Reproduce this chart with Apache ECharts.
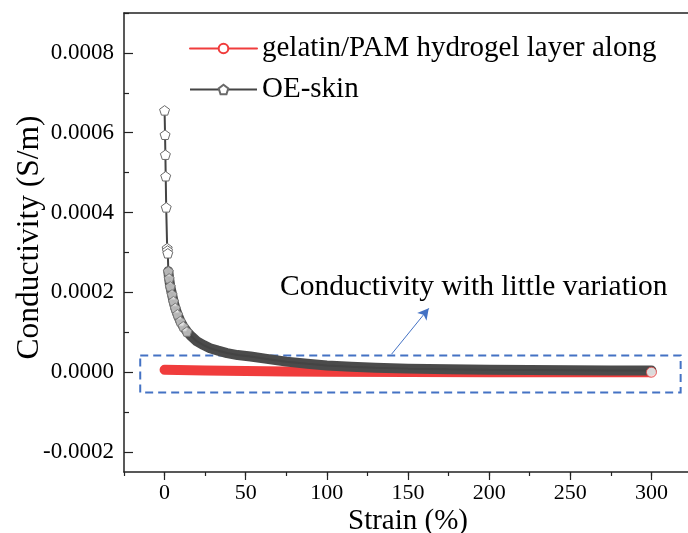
<!DOCTYPE html>
<html>
<head>
<meta charset="utf-8">
<script src="https://cdn.jsdelivr.net/npm/echarts@6/dist/echarts.min.js"></script>
<style>
  html, body { margin: 0; padding: 0; background: #fff; }
  #chart { width: 688px; height: 533px; }
</style>
</head>
<body>
<div id="chart"></div>
<script>
// Strain (%) and conductivity (S/m) for the gelatin/PAM hydrogel layer
const gelStrain = [0, 25, 50, 75, 100, 150, 200, 250, 300];
const gelCond   = [6.0e-6, 4.3e-6, 2.9e-6, 1.9e-6, 1.2e-6, 0.5e-6, 0.2e-6, 0.1e-6, 0.0];

// Strain (%) and conductivity (S/m) for the OE-skin
const oeStrain = [0, 0.3, 0.5, 0.7, 1.0, 1.6, 1.8, 2.0, 2.3, 2.8, 3.5, 4.6, 5.5, 6.6, 8.0, 9.7,
                  11.5, 13.8, 16.5, 20, 24, 28, 33, 38.5, 45, 53, 62, 75, 88, 100, 115, 130,
                  150, 175, 200, 225, 250, 275, 300];
const oeCond   = [6.56e-4, 5.95e-4, 5.45e-4, 4.91e-4, 4.13e-4, 3.11e-4, 3.05e-4, 2.98e-4,
                  2.53e-4, 2.35e-4, 2.15e-4, 1.95e-4, 1.78e-4, 1.61e-4, 1.45e-4, 1.28e-4,
                  1.15e-4, 1.02e-4, 0.90e-4, 0.77e-4, 0.68e-4, 0.60e-4, 0.54e-4, 0.48e-4,
                  0.43e-4, 0.395e-4, 0.34e-4, 0.265e-4, 0.21e-4, 0.17e-4, 0.135e-4, 0.11e-4,
                  0.09e-4, 0.075e-4, 0.062e-4, 0.055e-4, 0.05e-4, 0.046e-4, 0.043e-4];

// Axis tick positions
const strainTicks = ['-25', '0', '25', '50', '75', '100', '125', '150', '175', '200', '225', '250', '275', '300', '325'];
const condStep = 0.00005;
const condMin = -0.00025, condMax = 0.0009;
const condTicks = [];
for (let k = Math.round(condMin / condStep); k <= Math.round(condMax / condStep); k++) condTicks.push(String(k));

const seriesNames = ['gelatin/PAM hydrogel layer along', 'OE-skin'];

const FONT = '"Liberation Serif", "Times New Roman", serif';
const AXIS_COLOR = '#222';
const PENTAGON = 'path://M0,-10 L9.51,-3.09 L5.88,8.09 L-5.88,8.09 L-9.51,-3.09 Z';

const pairs = (xs, ys) => xs.map((x, i) => [x, ys[i]]);
const oePoints = pairs(oeStrain, oeCond);
const gelPoints = pairs(gelStrain, gelCond);

// Sparse OE-skin points keep white markers; crowded ones blend into the band
const oeMarked = oePoints.map(p => {
  if (p[0] < 2.3) return p;
  if (p[0] <= 14) return { value: p, itemStyle: { color: 'rgba(255,255,255,0.6)', borderColor: '#777' } };
  return { value: p, symbol: 'none' };
});
const oeBand = oePoints.filter(p => p[0] >= 2.3);

const chart = echarts.init(document.getElementById('chart'), null, { renderer: 'canvas' });

const tickAxisBase = {
  type: 'category', gridIndex: 0, boundaryGap: false,
  axisLine: { show: false, onZero: false }, axisLabel: { show: false }, splitLine: { show: false }
};

chart.setOption({
  animation: false,
  backgroundColor: '#fff',
  grid: { left: 124, top: 13, right: -4, bottom: 61, containLabel: false, outerBoundsMode: 'none' },
  legend: {
    data: seriesNames,
    orient: 'vertical',
    left: 189, top: 33, padding: 0,
    itemWidth: 67, itemHeight: 12, itemGap: 10,
    lineStyle: { width: 2 },
    textStyle: { fontFamily: FONT, fontSize: 29, color: '#000', lineHeight: 31 }
  },
  xAxis: [
    {
      type: 'value', min: -25, max: 325, interval: 25,
      name: 'Strain (%)', nameLocation: 'middle', nameGap: 35, nameMoveOverlap: false,
      nameTextStyle: { fontFamily: FONT, fontSize: 29, color: '#000' },
      axisLine: { onZero: false, lineStyle: { color: AXIS_COLOR, width: 1.5 } },
      axisTick: { show: true, length: 4, lineStyle: { color: AXIS_COLOR, width: 1.2 } },
      axisLabel: {
        margin: 10, fontFamily: FONT, fontSize: 22, color: '#000',
        formatter: v => (Math.round(v) % 50 === 0 ? String(Math.round(v)) : '')
      },
      splitLine: { show: false }
    },
    Object.assign({}, tickAxisBase, {
      position: 'bottom', data: strainTicks,
      axisTick: {
        show: true, length: 8, lineStyle: { color: AXIS_COLOR, width: 1.2 },
        interval: (i, v) => Number(v) % 50 === 0
      }
    }),
    {
      type: 'value', position: 'top', min: -25, max: 325,
      axisLine: { show: true, onZero: false, lineStyle: { color: AXIS_COLOR, width: 1.5 } },
      axisTick: { show: false }, axisLabel: { show: false }, splitLine: { show: false }
    }
  ],
  yAxis: [
    {
      type: 'value', min: condMin, max: condMax, interval: condStep,
      name: 'Conductivity (S/m)', nameLocation: 'middle', nameGap: 78, nameMoveOverlap: false,
      nameTextStyle: { fontFamily: FONT, fontSize: 31.5, color: '#000', padding: [0, 0, 0, 10] },
      axisLine: { show: true, onZero: false, lineStyle: { color: AXIS_COLOR, width: 1.5 } },
      axisTick: { show: false },
      axisLabel: {
        margin: 10, fontFamily: FONT, fontSize: 23, color: '#000',
        formatter: v => (Math.round(v / condStep) % 4 === 0 ? v.toFixed(4) : '')
      },
      splitLine: { show: false }
    },
    Object.assign({}, tickAxisBase, {
      position: 'left', data: condTicks,
      axisTick: {
        show: true, inside: true, length: 9, lineStyle: { color: AXIS_COLOR, width: 1.2 },
        interval: (i, v) => Number(v) % 4 === 0
      }
    }),
    Object.assign({}, tickAxisBase, {
      position: 'left', data: condTicks,
      axisTick: {
        show: true, inside: true, length: 5, lineStyle: { color: AXIS_COLOR, width: 1.2 },
        interval: (i, v) => Math.abs(Number(v)) % 4 === 2
      }
    })
  ],
  series: [
    {
      name: seriesNames[0],
      type: 'line',
      data: gelPoints,
      z: 2,
      symbol: 'circle', symbolSize: 9, showSymbol: false,
      itemStyle: { color: '#fff', borderColor: '#f03c3c', borderWidth: 1 },
      lineStyle: { color: '#f03c3c', width: 10, cap: 'round', join: 'round' },
      markArea: {
        silent: true,
        itemStyle: { color: 'rgba(0,0,0,0)', borderColor: '#4472c4', borderWidth: 2, borderType: [8, 5] },
        label: { show: false },
        data: [[{ coord: [-15, 0.000042] }, { coord: [318, -0.000051] }]]
      },
      markLine: {
        silent: true,
        symbol: ['none', 'arrow'], symbolSize: [9, 11],
        label: { show: false },
        lineStyle: { color: '#4472c4', width: 1, type: 'solid' },
        data: [[{ coord: [139.9, 0.0000453] }, { coord: [162.8, 0.00016] }]]
      }
    },
    {
      // crowded part of the OE-skin curve, where markers merge into a band
      type: 'line',
      data: oeBand,
      z: 3,
      symbol: 'none',
      lineStyle: { color: '#4b4b4b', width: 10, cap: 'round', join: 'round' },
      silent: true
    },
    {
      name: seriesNames[1],
      type: 'line',
      data: oeMarked,
      z: 4,
      symbol: PENTAGON, symbolSize: 10, symbolKeepAspect: true, showAllSymbol: true,
      itemStyle: { color: '#fff', borderColor: '#6a6a6a', borderWidth: 1 },
      lineStyle: { color: '#444', width: 2 }
    },
    {
      // last hydrogel point drawn above the band
      type: 'scatter',
      data: [gelPoints[gelPoints.length - 1]],
      z: 5,
      symbol: 'circle', symbolSize: 10,
      itemStyle: { color: '#fff', borderColor: '#e04545', borderWidth: 1 },
      silent: true
    }
  ],
  graphic: [
    {
      type: 'text', x: 280, y: 287, z: 10,
      style: {
        text: 'Conductivity with little variation',
        fontFamily: FONT, fontSize: 29.5, fill: '#000',
        align: 'left', verticalAlign: 'middle'
      }
    }
  ]
});
</script>
</body>
</html>
